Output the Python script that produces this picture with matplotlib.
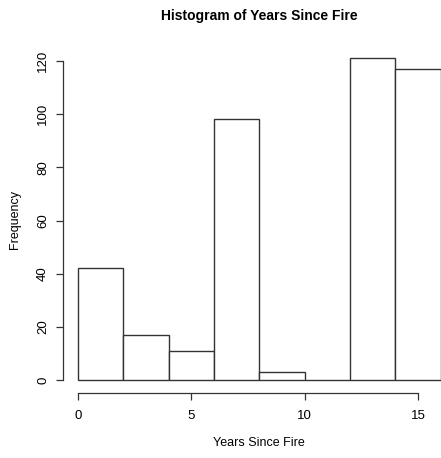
import matplotlib
matplotlib.use("Agg")
import matplotlib.pyplot as plt

plt.rcParams['font.family'] = ['Liberation Sans', 'DejaVu Sans']

bin_edges = [0, 2, 4, 6, 8, 10, 12, 14, 16]
counts = [42, 17, 11, 98, 3, 0, 121, 117]
x_ticks = [0, 5, 10, 15]
y_ticks = [0, 20, 40, 60, 80, 100, 120]

W, H = 441, 458
fig = plt.figure(figsize=(W / 100, H / 100), dpi=100)
left_px, right_px, bottom_px, top_px = 63, 441, 393, 40
ax = fig.add_axes([left_px / W, (H - bottom_px) / H, (right_px - left_px) / W, (bottom_px - top_px) / H])

# data scale: x 0 at px 78, 15 at px 418 ; y 0 at px 380, 120 at px 61
xs = (418 - 78) / 15
ys = (380 - 61) / 120
ax.set_xlim((left_px - 78) / xs, (right_px - 78) / xs)
ax.set_ylim(-(bottom_px - 380) / ys, (380 - top_px) / ys)

widths = [bin_edges[i + 1] - bin_edges[i] for i in range(len(counts))]
ax.bar(bin_edges[:-1], counts, width=widths, align='edge', facecolor='white',
       edgecolor='#333333', linewidth=1.0)

for s in ['top', 'right']:
    ax.spines[s].set_visible(False)
ax.spines['left'].set_bounds(0, 120)
ax.spines['bottom'].set_bounds(0, 15)
for s in ['left', 'bottom']:
    ax.spines[s].set_color('#333333')
    ax.spines[s].set_linewidth(0.9)

ax.set_xticks(x_ticks)
ax.set_yticks(y_ticks)
ax.tick_params(direction='out', length=5, width=0.9, color='#333333', labelsize=9.5, pad=5)
ax.tick_params(axis='x', pad=7)
ax.set_yticklabels([str(v) for v in y_ticks], rotation=90, va='center')
ax.set_xticklabels([str(v) for v in x_ticks])

fig.text(259 / W, 1 - 16 / H, 'Histogram of Years Since Fire', ha='center', va='center',
         fontsize=10, fontweight='bold')
fig.text(259 / W, 1 - 443 / H, 'Years Since Fire', ha='center', va='center', fontsize=9)
fig.text(15 / W, 1 - 219 / H, 'Frequency', ha='center', va='center', rotation=90, fontsize=9)

fig.savefig('out.png', dpi=100)
